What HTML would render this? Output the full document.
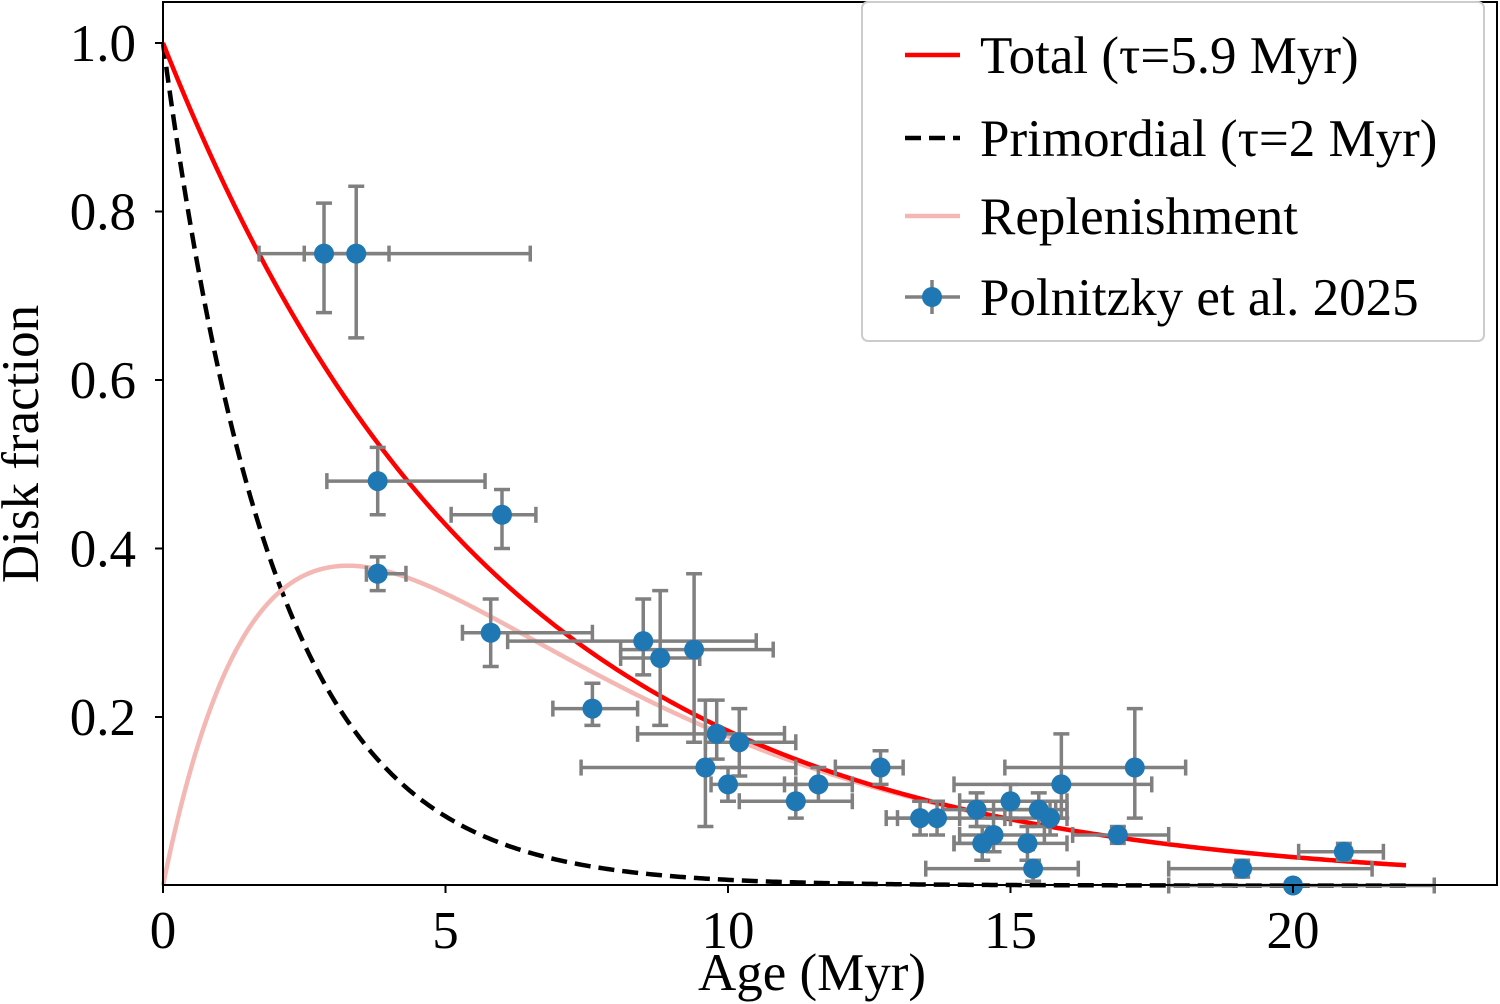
<!DOCTYPE html>
<html><head><meta charset="utf-8"><style>
html,body{margin:0;padding:0;background:#fff;}
svg{display:block;font-family:"Liberation Serif",serif;}
</style></head><body>
<svg id="chart" width="1500" height="1004" viewBox="0 0 1500 1004">
<g id="curves"></g>
<g id="points"></g>
<rect x="163" y="2" width="1334" height="883" fill="none" stroke="#000" stroke-width="2"/>
<g id="axes"></g>
<text x="812" y="990" text-anchor="middle" font-size="53">Age (Myr)</text>
<text transform="translate(38,444) rotate(-90)" text-anchor="middle" font-size="53">Disk fraction</text>
<g>
<rect x="862" y="2" width="622" height="339" rx="6" fill="#fff" fill-opacity="0.85" stroke="#ccc" stroke-width="2"/>
<line x1="905" y1="55" x2="960" y2="55" stroke="#ff0000" stroke-width="4.5"/>
<text x="980" y="73" font-size="53">Total (τ=5.9 Myr)</text>
<line x1="905" y1="138" x2="960" y2="138" stroke="#000" stroke-width="4.5" stroke-dasharray="16,8"/>
<text x="980" y="156" font-size="53">Primordial (τ=2 Myr)</text>
<line x1="905" y1="216" x2="960" y2="216" stroke="#f4b8b4" stroke-width="4.5"/>
<text x="980" y="234" font-size="53">Replenishment</text>
<line x1="905" y1="297" x2="960" y2="297" stroke="#808080" stroke-width="3.5"/>
<line x1="932" y1="280" x2="932" y2="314" stroke="#808080" stroke-width="3.5"/>
<circle cx="932" cy="297" r="10" fill="#1f77b4"/>
<text x="980" y="315" font-size="53">Polnitzky et al. 2025</text>
</g>
</svg>
<script>
const ages=[2.85,3.42,3.8,6.0,3.8,5.8,8.5,8.8,9.4,7.6,9.8,10.2,9.6,10.0,11.2,11.6,12.7,13.4,13.7,14.4,14.5,14.7,15.0,15.3,15.5,15.7,15.4,15.9,16.9,17.2,19.1,20.0,20.9];
const fracs=[0.75,0.75,0.48,0.44,0.37,0.30,0.29,0.27,0.28,0.21,0.18,0.17,0.14,0.12,0.10,0.12,0.14,0.08,0.08,0.09,0.05,0.06,0.10,0.05,0.09,0.08,0.02,0.12,0.06,0.14,0.02,0.0,0.04];
const ageLo=[1.7,2.5,2.9,5.1,3.6,5.3,6.1,8.1,8.1,6.9,8.4,9.6,7.4,9.7,10.2,11.0,11.9,12.8,13.0,13.8,14.0,14.1,14.1,14.0,14.7,14.9,13.5,14.0,16.1,14.9,17.8,17.8,20.1];
const ageHi=[4.0,6.5,5.7,6.6,4.3,7.6,10.5,9.5,10.8,8.4,11.0,11.2,11.2,11.2,12.2,12.2,13.1,14.1,15.0,15.8,15.4,15.6,16.0,16.0,16.0,16.0,16.2,17.5,17.8,18.1,21.4,22.5,21.6];
const fracLo=[0.68,0.65,0.44,0.40,0.35,0.26,0.25,0.19,0.17,0.19,0.15,0.13,0.07,0.10,0.08,0.10,0.12,0.06,0.06,0.07,0.03,0.04,0.08,0.03,0.07,0.06,0.005,0.08,0.05,0.08,0.01,0.0,0.03];
const fracHi=[0.81,0.83,0.52,0.47,0.39,0.34,0.34,0.35,0.37,0.24,0.22,0.21,0.22,0.14,0.12,0.14,0.16,0.10,0.10,0.11,0.07,0.08,0.12,0.07,0.11,0.10,0.03,0.18,0.07,0.21,0.03,0.0,0.05];
const xTicks=[0,5,10,15,20];
const yTicks=[0.2,0.4,0.6,0.8,1.0];
const tauTotal=5.9, tauPrim=2, tMax=22;
const NS='http://www.w3.org/2000/svg';
const X=v=>163+v*56.5, Y=v=>885.5-v*842.5;
function mk(tag,attrs,parent){const e=document.createElementNS(NS,tag);for(const k in attrs)e.setAttribute(k,attrs[k]);parent.appendChild(e);return e;}
const cg=document.getElementById('curves');
function curve(f,color,dash,name){let d='';for(let i=0;i<=440;i++){const t=tMax*i/440;d+=(i?'L':'M')+X(t).toFixed(2)+','+Y(f(t)).toFixed(2);}
 const p=mk('path',{d:d,fill:'none',stroke:color,'stroke-width':4.5},cg);if(dash)p.setAttribute('stroke-dasharray',dash);
 
 }
curve(t=>Math.exp(-t/tauPrim),'#000','16,8','primordial-curve');
curve(t=>Math.exp(-t/tauTotal)-Math.exp(-t/tauPrim),'#f4b8b4',null,'replenishment-curve');
curve(t=>Math.exp(-t/tauTotal),'#ff0000',null,'total-curve');
const pg=document.getElementById('points');
for(let i=0;i<ages.length;i++){
 const g=mk('g',{stroke:'#808080','stroke-width':3.5},pg);
 
 
 const x=X(ages[i]),y=Y(fracs[i]);
 mk('line',{x1:X(ageLo[i]),y1:y,x2:X(ageHi[i]),y2:y},g);
 mk('line',{x1:X(ageLo[i]),y1:y-8,x2:X(ageLo[i]),y2:y+8},g);
 mk('line',{x1:X(ageHi[i]),y1:y-8,x2:X(ageHi[i]),y2:y+8},g);
 mk('line',{x1:x,y1:Y(fracLo[i]),x2:x,y2:Y(fracHi[i])},g);
 mk('line',{x1:x-8,y1:Y(fracLo[i]),x2:x+8,y2:Y(fracLo[i])},g);
 mk('line',{x1:x-8,y1:Y(fracHi[i]),x2:x+8,y2:Y(fracHi[i])},g);
}
for(let i=0;i<ages.length;i++){
 const c=mk('circle',{cx:X(ages[i]),cy:Y(fracs[i]),r:10,fill:'#1f77b4'},pg);
 
 
}
const ag=document.getElementById('axes');
xTicks.forEach(v=>{mk('line',{x1:X(v),y1:885,x2:X(v),y2:893,stroke:'#000','stroke-width':2},ag);
 const t=mk('text',{x:X(v),y:948,'text-anchor':'middle','font-size':53},ag);t.textContent=v;
 
 });
yTicks.forEach(v=>{mk('line',{x1:155,y1:Y(v),x2:163,y2:Y(v),stroke:'#000','stroke-width':2},ag);
 const t=mk('text',{x:136,y:Y(v)+18,'text-anchor':'end','font-size':53},ag);t.textContent=v.toFixed(1);
 
 });
</script>
</body></html>
